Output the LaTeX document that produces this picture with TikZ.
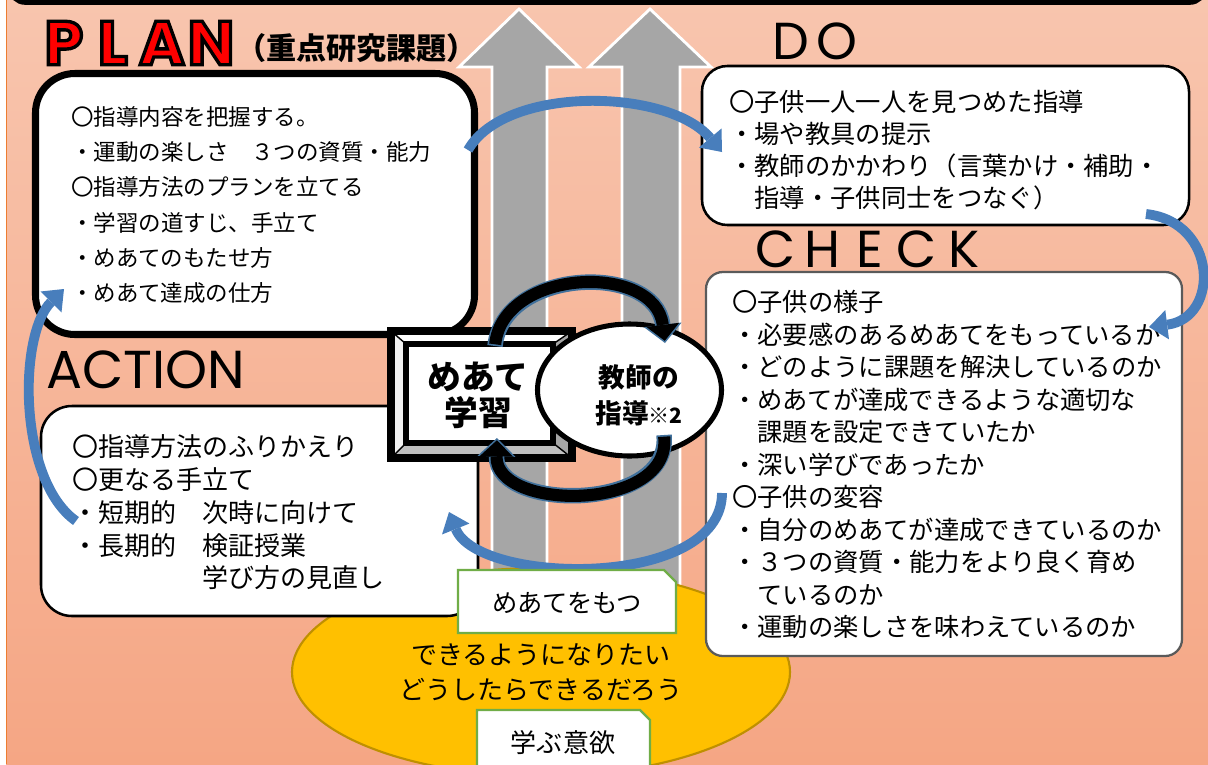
\documentclass[tikz,border=0pt]{standalone}
\usepackage{fontspec}
\setmainfont{Noto Sans CJK JP}
\newfontfamily\pop{Poppins}
\usetikzlibrary{arrows.meta}
\definecolor{bgtop}{RGB}{248,197,174}
\definecolor{bgbot}{RGB}{245,166,132}
\definecolor{edgeorange}{RGB}{237,125,49}
\definecolor{arrowgray}{RGB}{166,166,166}
\definecolor{bevelgray}{RGB}{191,191,191}
\definecolor{bevellight}{RGB}{242,242,242}
\definecolor{bandblue}{RGB}{72,126,188}
\definecolor{edgeblue}{RGB}{65,113,156}
\definecolor{gold}{RGB}{255,192,0}
\definecolor{goldedge}{RGB}{191,144,0}
\definecolor{greenedge}{RGB}{112,173,71}
\definecolor{checkedge}{RGB}{90,90,90}
\newcommand\cellbox[2]{\makebox[#1][c]{#2}}
\newcommand\outlineon{\special{pdf:bcolor [1 0 0] [0 0 0]}\special{pdf:literal direct 2 Tr 2.4 w}}
\newcommand\outlineoff{\special{pdf:literal direct 0 Tr}\special{pdf:ecolor}}
\begin{document}
\begin{tikzpicture}[x=0.025cm,y=-0.025cm,
  panel/.style={draw=black, fill=white},
  bodytext/.style={anchor=west, align=left, inner sep=0pt, text=black},
  titletext/.style={anchor=west, inner sep=0pt, font=\pop\fontsize{37}{37}\selectfont},
  uparrow/.style={fill=arrowgray, draw=white, line width=2pt},
  bluecurve/.style={draw=bandblue, line width=7pt, -{Triangle[width=21pt,length=13pt,line width=0pt,color=bandblue,fill=bandblue]}},
  cycleunder/.style={draw=edgeblue, line width=11pt, -{Triangle[width=27pt,length=13pt,line width=0pt,color=edgeblue,fill=edgeblue]}},
  cycleover/.style={draw=black, line width=8.6pt, shorten >=1.6pt, shorten <=1.2pt, -{Triangle[width=23.5pt,length=11.4pt,line width=0pt,color=black,fill=black]}},
  tagbox/.style={draw=greenedge, line width=1.6pt, fill=white},
]
\useasboundingbox (0,0) rectangle (1208,764);
% background
\fill[white] (0,0) rectangle (1208,764);
\shade[top color=bgtop, bottom color=bgbot] (6,0) rectangle (1208,764);
\draw[edgeorange, line width=1.2pt] (6.5,0) -- (6.5,764);
\draw[line width=4pt, fill=white, rounded corners=10pt] (11,-40) rectangle (1204,2);

% big gray up arrows
\draw[uparrow] (492,600) -- (492,67) -- (459,67) -- (519,9) -- (579,67) -- (547,67) -- (547,600) -- cycle;
\draw[uparrow] (622,600) -- (622,67) -- (589,67) -- (650,9) -- (711,67) -- (680,67) -- (680,600) -- cycle;

% yellow ellipse
\draw[fill=gold, draw=goldedge, line width=1.5pt] (541,672) ellipse [x radius=249, y radius=104];

% PLAN box
\draw[panel, line width=5pt, rounded corners=28pt] (35.5,73.5) rectangle (474.5,334.5);
\node[bodytext, font=\fontsize{16}{25}\selectfont] (plantext) at (71,205)
 {〇指導内容を把握する。\\・運動の楽しさ　３つの資質・能力\\〇指導方法のプランを立てる\\・学習の道すじ、手立て\\・めあてのもたせ方\\・めあて達成の仕方};

% DO box
\draw[panel, line width=1.8pt, rounded corners=18pt] (702,66) rectangle (1189,225);
\node[bodytext, font=\fontsize{18}{22.8}\selectfont] (dotext) at (729,150)
 {〇子供一人一人を見つめた指導\\・場や教具の提示\\・教師のかかわり（言葉かけ・補助・\\　指導・子供同士をつなぐ）};

% CHECK box
\draw[panel, draw=checkedge, line width=1.6pt, rounded corners=12pt] (706,272) rectangle (1182,656);
\node[bodytext, font=\fontsize{18}{23.1}\selectfont] (checktext) at (732,464.5)
 {〇子供の様子\\・必要感のあるめあてをもっているか\\・どのように課題を解決しているのか\\・めあてが達成できるような適切な\\　課題を設定できていたか\\・深い学びであったか\\〇子供の変容\\・自分のめあてが達成できているのか\\・３つの資質・能力をより良く育め\\　ているのか\\・運動の楽しさを味わえているのか};

% ACTION box
\draw[panel, line width=1.8pt, rounded corners=22pt] (41,406) rectangle (478,616);
\node[bodytext, font=\fontsize{18.5}{23.3}\selectfont] (actiontext) at (72,512.5)
 {〇指導方法のふりかえり\\〇更なる手立て\\・短期的　次時に向けて\\・長期的　検証授業\\　　　　　学び方の見直し};

% titles
\node[anchor=west, inner sep=0pt, font=\pop\bfseries\fontsize{44}{44}\selectfont] (plantitle) at (39,43)
 {\outlineon\cellbox{34.9pt}{P}\cellbox{34.9pt}{L}\cellbox{34.9pt}{A}\cellbox{34.9pt}{N}\outlineoff};
\node[anchor=west, inner sep=0pt, font=\bfseries\fontsize{21.4}{21.4}\selectfont] (plansub) at (236,48) {（重点研究課題）};
\node[titletext] (dotitle) at (768,41) {\cellbox{32.7pt}{D}\cellbox{32.7pt}{O}};
\node[titletext] (checktitle) at (752,249) {\cellbox{33.4pt}{C}\cellbox{33.4pt}{H}\cellbox{33.4pt}{E}\cellbox{33.4pt}{C}\cellbox{33.4pt}{K}};
\node[titletext, font=\pop\fontsize{38}{38}\selectfont] (actiontitle) at (46,370) {ACTION};

% bevel box
\fill[white] (391,331) rectangle (572,458);
\fill[bevellight] (391,331) -- (406,344) -- (406,443) -- (391,458) -- cycle;
\fill[bevelgray] (391,458) -- (406,443) -- (553,443) -- (572,458) -- cycle;
\fill[arrowgray] (572,331) -- (553,344) -- (553,443) -- (572,458) -- cycle;
\draw[line width=1pt] (391,331) -- (406,344) (572,331) -- (553,344) (391,458) -- (406,443) (572,458) -- (553,443);
\draw[line width=5pt] (391,331) rectangle (572,458);
\draw[line width=4.2pt] (406,344) rectangle (553,443);
\node[font=\bfseries\fontsize{24}{25.6}\selectfont, align=center, inner sep=0pt] (goalstudy) at (478,395) {めあて\\学習};

% teacher ellipse
\draw[fill=white, line width=3.6pt] (629.5,390) ellipse [x radius=92, y radius=66];
\node[font=\bfseries\fontsize{19}{25.5}\selectfont, align=center, inner sep=0pt] (teacher) at (639,395)
 {教師の\\指導{\bfseries\fontsize{15}{15}\selectfont ※2}};

% black cycle arrows
\coordinate (c1s) at (495,346);
\coordinate (c1e) at (665,343);
\coordinate (c2s) at (664,435);
\coordinate (c2e) at (497,438);
\draw[cycleunder] (c1s) .. controls (503,268) and (655,262) .. (c1e);
\draw[cycleover] (c1s) .. controls (503,268) and (655,262) .. (c1e);
\draw[cycleunder] (c2s) .. controls (672,512) and (495,512) .. (c2e);
\draw[cycleover] (c2s) .. controls (672,512) and (495,512) .. (c2e);

% blue PDCA arrows
\coordinate (a1s) at (468,150);
\coordinate (a1e) at (722,152);
\coordinate (a2s) at (1146,214);
\coordinate (a2e) at (1149,327);
\coordinate (a3s) at (722,493);
\coordinate (a3e) at (449,512);
\coordinate (a4s) at (76,521);
\coordinate (a4e) at (64,289);
\draw[bluecurve] (a1s) .. controls (505,85) and (668,88) .. (a1e);
\draw[bluecurve] (a2s) .. controls (1218,222) and (1220,318) .. (a2e);
\draw[bluecurve] (a3s) .. controls (722,590) and (478,585) .. (a3e);
\draw[bluecurve] (a4s) .. controls (18,480) and (18,335) .. (a4e);

% bottom motivation
\node[align=center, inner sep=0pt, font=\fontsize{18.5}{24.9}\selectfont] (wish) at (541,672.5)
 {できるようになりたい\\どうしたらできるだろう};
\draw[tagbox] (458,633) -- (458,570) -- (664,570) -- (676,582) -- (676,633) -- cycle;
\node[inner sep=0pt, font=\fontsize{18}{18}\selectfont] (havegoal) at (567,603) {めあてをもつ};
\draw[tagbox] (477,790) -- (477,710) -- (640,710) -- (650,720) -- (650,790) -- cycle;
\node[inner sep=0pt, font=\fontsize{18.5}{18.5}\selectfont] (will) at (563,743) {学ぶ意欲};
\end{tikzpicture}
\end{document}
